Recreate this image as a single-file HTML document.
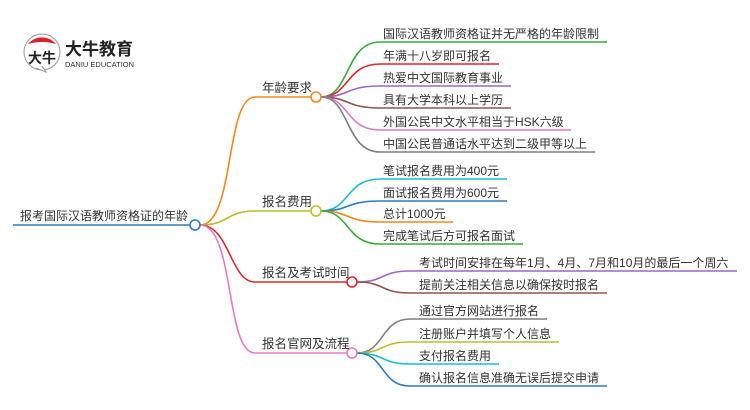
<!DOCTYPE html>
<html><head><meta charset="utf-8"><style>
html,body{margin:0;padding:0;background:#fff;}
svg{display:block}
text{font-family:"Liberation Sans","Noto Sans CJK SC",sans-serif;fill:#333;}
</style></head><body>
<svg width="750" height="410" viewBox="0 0 750 410" xmlns="http://www.w3.org/2000/svg">
<g>
<circle cx="42" cy="52" r="18" fill="#fff" stroke="#999" stroke-width="1"/>
<path d="M28 44 A18 18 0 0 1 56 44 Q42 40 28 44 Z" fill="#d7262b"/>
<path d="M36 68 L46 72 L42 66" fill="#fff" stroke="#999" stroke-width="1"/>
<text x="28" y="63" font-size="14" font-weight="bold" style="fill:#222">大牛</text>
<text x="65" y="55" font-size="17" font-weight="bold" style="fill:#222">大牛教育</text>
<text x="65" y="67" font-size="7.5" style="fill:#333">DANIU EDUCATION</text>
</g>
<g fill="none" stroke-width="1.6">
<line x1="13" y1="225" x2="190" y2="225" stroke="#2f7bbf"/>
<path d="M200 225 C235 225 225 97 255 97 L311 97" stroke="#f5861f"/>
<path d="M200 225 C230 225 225 211 255 211 L311 211" stroke="#b8bf2a"/>
<path d="M200 225 C230 225 230 282 255 282 L347 282" stroke="#d9282d"/>
<path d="M200 225 C235 225 225 353 255 353 L347 353" stroke="#e97ac8"/>
<path d="M321 97 C350 97 345 42 380 42 L607 42" stroke="#3aaa3a"/>
<path d="M321 97 C350 97 345 64 380 64 L499 64" stroke="#d9282d"/>
<path d="M321 97 C350 97 345 86 380 86 L511 86" stroke="#9966cc"/>
<path d="M321 97 C350 97 345 108 380 108 L511 108" stroke="#8c564b"/>
<path d="M321 97 C350 97 345 130 380 130 L571 130" stroke="#e377c2"/>
<path d="M321 97 C350 97 345 152 380 152 L595 152" stroke="#7f7f7f"/>
<path d="M321 211 C350 211 345 179 380 179 L507 179" stroke="#17becf"/>
<path d="M321 211 C350 211 345 201 380 201 L507 201" stroke="#2f7bbf"/>
<path d="M321 211 C350 211 345 222 380 222 L453 222" stroke="#f5861f"/>
<path d="M321 211 C350 211 345 244 380 244 L523 244" stroke="#3aaa3a"/>
<path d="M357 282 C385 282 380 271 410 271 L737 271" stroke="#9966cc"/>
<path d="M357 282 C385 282 380 293 410 293 L607 293" stroke="#8c564b"/>
<path d="M357 353 C385 353 380 319 410 319 L547 319" stroke="#7f7f7f"/>
<path d="M357 353 C385 353 380 342 410 342 L559 342" stroke="#b8bf2a"/>
<path d="M357 353 C385 353 380 364 410 364 L499 364" stroke="#17becf"/>
<path d="M357 353 C385 353 380 386 410 386 L607 386" stroke="#2f7bbf"/>
</g>
<g fill="#fff" stroke-width="1.6">
<circle cx="195" cy="225" r="5" stroke="#2f7bbf"/>
<circle cx="316" cy="97" r="5" stroke="#f5861f"/>
<circle cx="316" cy="211" r="5" stroke="#b8bf2a"/>
<circle cx="352" cy="282" r="5" stroke="#d9282d"/>
<circle cx="352" cy="353" r="5" stroke="#e97ac8"/>
</g>
<g font-size="12">
<text x="20" y="220" textLength="168" lengthAdjust="spacingAndGlyphs">报考国际汉语教师资格证的年龄</text>
<text x="262" y="92" font-size="12.5">年龄要求</text>
<text x="262" y="206" font-size="12.5">报名费用</text>
<text x="262" y="277" font-size="12.5">报名及考试时间</text>
<text x="262" y="348" font-size="12.5">报名官网及流程</text>
</g>
<g font-size="12">
<text x="383" y="38">国际汉语教师资格证并无严格的年龄限制</text>
<text x="383" y="60">年满十八岁即可报名</text>
<text x="383" y="82">热爱中文国际教育事业</text>
<text x="383" y="104">具有大学本科以上学历</text>
<text x="383" y="126">外国公民中文水平相当于HSK六级</text>
<text x="383" y="148">中国公民普通话水平达到二级甲等以上</text>
<text x="383" y="175">笔试报名费用为400元</text>
<text x="383" y="197">面试报名费用为600元</text>
<text x="383" y="218">总计1000元</text>
<text x="383" y="240">完成笔试后方可报名面试</text>
<text x="419" y="267">考试时间安排在每年1月、4月、7月和10月的最后一个周六</text>
<text x="419" y="289">提前关注相关信息以确保按时报名</text>
<text x="419" y="315">通过官方网站进行报名</text>
<text x="419" y="338">注册账户并填写个人信息</text>
<text x="419" y="360">支付报名费用</text>
<text x="419" y="382">确认报名信息准确无误后提交申请</text>
</g>
</svg>
</body></html>
